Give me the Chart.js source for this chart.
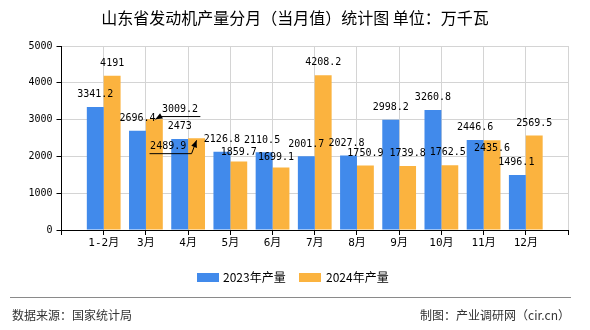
<!DOCTYPE html>
<html>
<head>
<meta charset="utf-8">
<script src="https://cdn.jsdelivr.net/npm/chart.js@4/dist/chart.umd.min.js"></script>
<style>
  html, body { margin: 0; padding: 0; background: #fff; }
  #wrap { position: relative; width: 590px; height: 330px; overflow: hidden; font-family: 'Noto Sans CJK SC', sans-serif; }
  #chart { position: absolute; left: 0; top: 0; }
  #title { position: absolute; left: 0; width: 590px; top: 7px; text-align: center; font-size: 16px; line-height: 20px; color: #000; }
  #legend { position: absolute; top: 268px; left: 0; width: 590px; height: 18px; }
  .item { position: absolute; top: 0; font-size: 12px; line-height: 18px; color: #000; }
  .box { position: absolute; width: 22px; height: 9px; top: 4.5px; }
  #rule { position: absolute; left: 10px; width: 561px; top: 297px; border-top: 1.5px solid #8a8a8a; }
  .foot { position: absolute; top: 306px; font-size: 12px; line-height: 18px; color: #333; }
</style>
</head>
<body>
<div id="wrap">
  <canvas id="chart" width="590" height="330"></canvas>
  <div id="title">山东省发动机产量分月（当月值）统计图 单位：万千瓦</div>
  <div id="legend">
    <div class="box" style="left:197px;background:#418aeb"></div>
    <div class="item" style="left:223px">2023年产量</div>
    <div class="box" style="left:299px;background:#fbb33f"></div>
    <div class="item" style="left:326px">2024年产量</div>
  </div>
  <div id="rule"></div>
  <div class="foot" style="left:12px">数据来源：国家统计局</div>
  <div class="foot" style="right:20px">制图：产业调研网（cir.cn）</div>
</div>
<script>
const months = ['1-2月', '3月', '4月', '5月', '6月', '7月', '8月', '9月', '10月', '11月', '12月'];
const output2023 = [3341.2, 2696.4, 2473, 2126.8, 2110.5, 2001.7, 2027.8, 2998.2, 3260.8, 2446.6, 1496.1];
const output2024 = [4191, 3009.2, 2489.9, 1859.7, 1699.1, 4208.2, 1750.9, 1739.8, 1762.5, 2435.6, 2569.5];
const yTicks = [0, 1000, 2000, 3000, 4000, 5000];

// empty slot at both ends, the reference puts bars on the inner grid lines
const labels = [''].concat(months, ['']);
const pad = arr => [null].concat(arr, [null]);

// nudges for value labels that the original moved to avoid overlaps
const labelTweaks = {
    '0-5': { dx: -2 },
    '0-7': { dx: -2 },
    '0-11': { dx: -1 },
    '1-2': { dx: 25.7, dy: -10, leader: [[46, -2.7], [6, -2.7], [1, 0]] },
    '1-3': { dx: -28.4, dy: 8, leader: [[-47, 15.3], [-5, 15.3], [0, 2]] },
    '1-4': { dy: -9 },
    '1-5': { dx: -5, dy: -10 },
    '1-9': { dx: -2 },
    '1-10': { dy: 8.4 }
};

const valueLabels = {
    id: 'valueLabels',
    afterDatasetsDraw(chart) {
        const ctx = chart.ctx;
        ctx.save();
        ctx.font = '10px "DejaVu Sans Mono", monospace';
        ctx.fillStyle = '#000';
        ctx.strokeStyle = '#000';
        ctx.textAlign = 'center';
        ctx.textBaseline = 'middle';
        chart.data.datasets.forEach((ds, di) => {
            chart.getDatasetMeta(di).data.forEach((bar, i) => {
                const v = ds.data[i];
                if (v == null) return;
                const t = labelTweaks[di + '-' + i] || {};
                const x = bar.x + (t.dx || 0);
                const y = bar.y + (t.dy !== undefined ? t.dy : -12.3);
                ctx.fillText(String(v), x, y);
                if (t.leader) {
                    const pts = t.leader.map(p => [bar.x + p[0], bar.y + p[1]]);
                    ctx.lineWidth = 1;
                    ctx.beginPath();
                    ctx.moveTo(pts[0][0], pts[0][1]);
                    pts.slice(1).forEach(p => ctx.lineTo(p[0], p[1]));
                    ctx.stroke();
                    const a = pts[pts.length - 2], b = pts[pts.length - 1];
                    const ang = Math.atan2(b[1] - a[1], b[0] - a[0]);
                    ctx.beginPath();
                    ctx.moveTo(b[0], b[1]);
                    ctx.lineTo(b[0] - 7 * Math.cos(ang) + 3 * Math.sin(ang), b[1] - 7 * Math.sin(ang) - 3 * Math.cos(ang));
                    ctx.lineTo(b[0] - 7 * Math.cos(ang) - 3 * Math.sin(ang), b[1] - 7 * Math.sin(ang) + 3 * Math.cos(ang));
                    ctx.closePath();
                    ctx.fill();
                }
            });
        });
        ctx.restore();
    }
};

new Chart(document.getElementById('chart').getContext('2d'), {
    type: 'bar',
    data: {
        labels: labels,
        datasets: [
            { label: '2023年产量', data: pad(output2023), backgroundColor: '#418aeb' },
            { label: '2024年产量', data: pad(output2024), backgroundColor: '#fbb33f' }
        ]
    },
    options: {
        responsive: false,
        animation: false,
        layout: { padding: { left: 0, right: 22, top: 46, bottom: 75 } },
        datasets: { bar: { categoryPercentage: 0.8, barPercentage: 1.0 } },
        scales: {
            x: {
                offset: false,
                grid: { color: '#d4d4d4', tickColor: '#000', tickLength: 5, offset: false },
                border: { color: '#000', width: 1 },
                ticks: {
                    color: '#000',
                    maxRotation: 0,
                    autoSkip: false,
                    padding: 2,
                    font: { family: '"DejaVu Sans Mono", "Noto Sans CJK SC", monospace', size: 11 }
                },
                afterFit: scale => { scale.height = 25; }
            },
            y: {
                min: 0,
                max: 5000,
                afterBuildTicks: scale => { scale.ticks = yTicks.map(v => ({ value: v })); },
                grid: { color: '#d4d4d4', tickColor: '#000', tickLength: 5 },
                border: { color: '#000', width: 1 },
                ticks: {
                    color: '#000',
                    padding: 4,
                    callback: v => String(v),
                    font: { family: '"DejaVu Sans Mono", monospace', size: 10 }
                },
                afterFit: scale => { scale.width = 61.5; }
            }
        },
        plugins: {
            legend: { display: false },
            title: { display: false },
            tooltip: { enabled: false }
        }
    },
    plugins: [valueLabels]
});
</script>
</body>
</html>
